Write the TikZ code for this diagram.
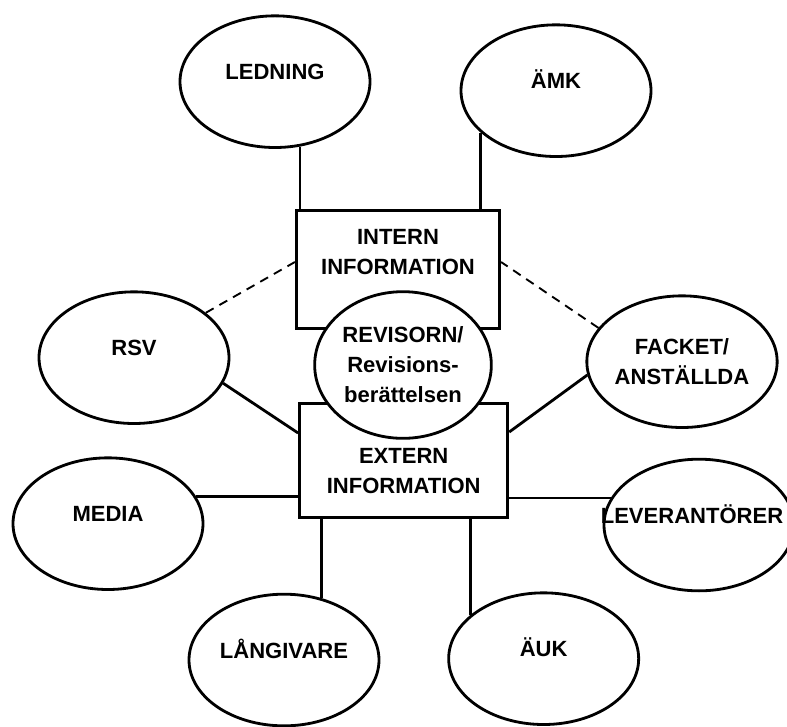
\documentclass[tikz,border=0pt]{standalone}
\usepackage{fontspec}
\setmainfont{Liberation Sans}
\usetikzlibrary{shapes.geometric}

\begin{document}
\begin{tikzpicture}[
    actor/.style={ellipse, draw, line width=2.4pt, inner sep=0pt, minimum width=5.7cm, minimum height=3.95cm},
    oneline/.style={actor, text height=0.5cm, text depth=0.62cm},
    infobox/.style={rectangle, draw, line width=2.4pt, fill=white},
    link/.style={line width=2.4pt},
    loose/.style={line width=1.6pt, dash pattern=on 0.27cm off 0.2cm},
    every node/.style={font=\bfseries\fontsize{18.8}{25.6}\selectfont}
  ]
  \useasboundingbox (0,0) rectangle (23.61,-21.78);
  \node[oneline] (ledning) at (8.25,-2.45) {LEDNING};
  \node[oneline] (amk) at (16.68,-2.72) {ÄMK};
  \node[oneline] (rsv) at (4.02,-10.73) {RSV};
  \node[actor, align=center] (facket) at (20.46,-10.85) {FACKET/\\ANSTÄLLDA};
  \node[oneline] (media) at (3.24,-15.71) {MEDIA};
  \node[oneline] (lev) at (20.97,-15.75) {\makebox[0pt]{LEVERANTÖRER\hspace{0.42cm}}};
  \node[oneline] (lang) at (8.52,-19.8) {LÅNGIVARE};
  \node[oneline] (auk) at (16.31,-19.76) {ÄUK};
  \node[infobox, minimum width=6.1cm, minimum height=3.55cm] (intern) at (11.94,-8.09) {};
  \node[align=center] (intern-text) at ([yshift=0.53cm]intern.center) {INTERN\\INFORMATION};
  \node[infobox, minimum width=6.25cm, minimum height=3.43cm] (extern) at (12.11,-13.82) {};
  \node[align=center] (extern-text) at ([yshift=-0.32cm]extern.center) {EXTERN\\INFORMATION};
  \node[actor, fill=white, minimum width=5.3cm, minimum height=4.4cm, align=center] (revisorn) at (12.09,-10.95) {REVISORN/\\Revisions-\\berättelsen};
  \draw[link] (ledning.291) -- (ledning.291 |- intern.north);
  \draw[link] (amk.209) -- (amk.209 |- intern.north);
  \draw[loose] (rsv.32) -- ([yshift=0.23cm]intern.west);
  \draw[loose] (facket.158) -- ([yshift=0.23cm]intern.east);
  \draw[link] (rsv.344) -- ([yshift=0.83cm]extern.west);
  \draw[link] (facket.188) -- ([yshift=0.86cm]extern.east);
  \draw[link] (media.17) -- (media.17 -| extern.west);
  \draw[link] (lev.163) -- (lev.163 -| extern.east);
  \draw[link] (lang.59) -- (lang.59 |- extern.south);
  \draw[link] (auk.149) -- (auk.149 |- extern.south);
\end{tikzpicture}
\end{document}
